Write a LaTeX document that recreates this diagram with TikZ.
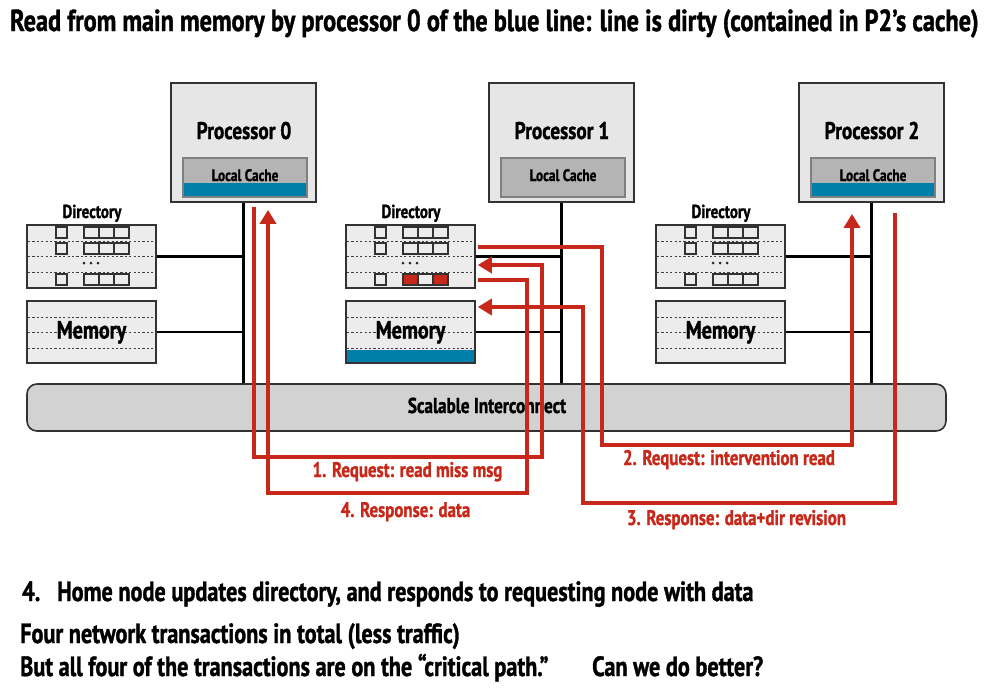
\documentclass[tikz,border=0pt]{standalone}
\usepackage{fontspec}
\setmainfont{PT Sans Bold}[FakeStretch=0.8, FakeBold=1.2]
\usetikzlibrary{arrows.meta,calc}
\definecolor{myred}{RGB}{200,40,25}
\definecolor{cacheblue}{RGB}{0,127,170}
\definecolor{boxgray}{RGB}{230,230,230}
\definecolor{unitgray}{RGB}{236,236,236}
\definecolor{cachegray}{RGB}{180,180,180}
\definecolor{icgray}{RGB}{210,210,210}
\definecolor{edgegray}{RGB}{50,50,50}
\newcommand{\fsz}[1]{\fontsize{#1}{#1}\selectfont}
\begin{document}
\begin{tikzpicture}[x=1pt,y=-1pt,
  procbox/.style={draw=edgegray, fill=boxgray, line width=1.8pt, minimum width=145pt, minimum height=119pt, inner sep=0pt},
  cachebox/.style={draw=gray, fill=cachegray, line width=1.2pt, minimum width=124pt, minimum height=39pt, inner sep=0pt},
  unitbox/.style={draw=edgegray, fill=unitgray, line width=1.6pt, minimum width=129pt, inner sep=0pt},
  dotline/.style={dash pattern=on 2.2pt off 2.2pt, line width=1pt, black!75},
  cell/.style={draw=edgegray, line width=1.3pt},
  busline/.style={line width=2.4pt, black},
  icbox/.style={draw=edgegray, fill=icgray, line width=1.6pt, rounded corners=10pt, minimum width=919pt, minimum height=47pt, inner sep=0pt},
  redpath/.style={draw=myred, line width=3.6pt},
  redarrow/.style={redpath, -{Triangle[width=16pt,length=14pt]}},
  lbl/.style={anchor=base, text=myred, font=\fsz{21.1}, inner sep=0pt},
  txt/.style={anchor=base, inner sep=0pt}]
\fill[white] (0,0) rectangle (989,694);
\useasboundingbox (0,0) rectangle (989,694);

% title
\node[txt, anchor=base west, font=\fsz{30.4}] (title) at (10,31) {Read from main memory by processor 0 of the blue line: line is dirty (contained in P2’s cache)};

% interconnect
\node[icbox] (ic) at (486.5,407.5) {};
\node[txt, font=\fsz{21.5}] (ictext) at (487,413) {Scalable Interconnect};

\foreach \i/\px/\dx in {0/0/0, 1/318/319, 2/628/629} {
  \node[procbox] (p\i) at (243.5+\px,142.5) {};
  \node[txt, font=\fsz{24.1}] (pt\i) at (244+\px,139) {Processor \i};
  \node[cachebox] (c\i) at (245+\px,177.5) {};
  \node[txt, font=\fsz{16.6}] (ct\i) at (245+\px,181) {Local Cache};
  \node[unitbox, minimum height=63pt] (dir\i) at (91.5+\dx,256.5) {};
  \node[txt, font=\fsz{18.8}] (dt\i) at (92+\dx,218) {Directory};
  \node[unitbox, minimum height=62pt] (mem\i) at (91.5+\dx,332) {};
  \foreach \yy in {241,256.5,272} \draw[dotline] (28+\dx,\yy) -- (155+\dx,\yy);
  \foreach \ry in {227,243,274} {
    \draw[cell] (56+\dx,\ry) rectangle +(11,11);
    \draw[cell] (84+\dx,\ry) rectangle +(45,11);
    \draw[cell] (99+\dx,\ry) -- +(0,11);
    \draw[cell] (114+\dx,\ry) -- +(0,11);
  }
  \foreach \xx in {84,91,98} \fill[black!85] (\xx+\dx,263) circle (1.5);
  \foreach \yy in {317,332.5,348} \draw[dotline] (28+\dx,\yy) -- (155+\dx,\yy);
  \draw[busline] (p\i.south) -- (p\i.south |- ic.north);
  \draw[busline] (dir\i.east) -- (dir\i.east -| p\i.south);
  \draw[busline] (mem\i.east) -- (mem\i.east -| p\i.south);
}
% blue lines in caches
\fill[cacheblue] (183.6,183) rectangle (306.4,196.4);
\fill[cacheblue] (811.6,183) rectangle (934.4,196.4);
% blue in home memory
\fill[cacheblue] (346.8,350) rectangle (474.2,362.2);
\draw[dotline] (347,348) -- (474,348);
% red directory entry
\fill[myred] (403,274) rectangle (418,285);
\fill[myred] (433,274) rectangle (448,285);
\draw[cell] (403,274) rectangle +(45,11);
\draw[cell] (418,274) -- +(0,11);
\draw[cell] (433,274) -- +(0,11);

\foreach \i in {0,1,2} \node[txt, font=\fsz{25}] (mt\i) at ($(mem\i.center)+(0,6.5)$) {Memory};

% red paths
\coordinate (s1) at ($(p0.south)+(10.5,4)$);
\coordinate (t1) at ($(dir1.east)+(2,8.5)$);
\draw[redarrow] (s1) |- (542,457) |- (t1);
\coordinate (s4) at ($(dir1.east)+(2,23.5)$);
\coordinate (t4) at ($(p0.south)+(24.5,7)$);
\draw[redarrow] (s4) -| (527,493) -| (t4);
\coordinate (s2) at ($(dir1.east)+(2,-9.5)$);
\coordinate (t2) at ($(p2.south)+(-19.5,11)$);
\draw[redarrow] (s2) -| (602,445) -| (t2);
\coordinate (s3) at ($(p2.south)+(23.5,10)$);
\coordinate (t3) at ($(mem1.east)+(2,-25)$);
\draw[redarrow] (s3) |- (583,503) |- (t3);

\node[lbl] (l1) at (407.5,477) {1. Request: read miss msg};
\node[lbl] (l4) at (405.5,517) {4. Response: data};
\node[lbl] (l2) at (729,465) {2. Request: intervention read};
\node[lbl] (l3) at (736.5,525) {3. Response: data+dir revision};

% bottom text
\node[txt, anchor=base west, font=\fsz{27.8}] (b1n) at (22,601) {4.};
\node[txt, anchor=base west, font=\fsz{27.8}] (b1) at (57,601) {Home node updates directory, and responds to requesting node with data};
\node[txt, anchor=base west, font=\fsz{27.8}] (b2) at (20,643) {Four network transactions in total (less traffic)};
\node[txt, anchor=base west, font=\fsz{27.8}] (b3) at (20,676) {But all four of the transactions are on the “critical path.”};
\node[txt, anchor=base west, font=\fsz{27.8}] (b3b) at (592,676) {Can we do better?};
\end{tikzpicture}
\end{document}
